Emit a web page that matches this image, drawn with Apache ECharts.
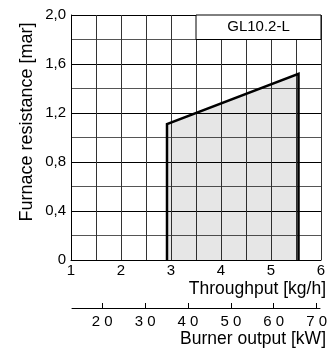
<!DOCTYPE html>
<html><head><meta charset="utf-8">
<script src="https://cdn.jsdelivr.net/npm/echarts@6/dist/echarts.min.js"></script>
<style>html,body{margin:0;padding:0;background:#fff}#c{width:336px;height:351px}</style>
</head><body><div id="c"></div>
<script>
// Data
const throughputTicks = [1, 2, 3, 4, 5, 6];
const resistanceTicks = [0, 0.4, 0.8, 1.2, 1.6, 2.0];
const burnerTicks = [20, 30, 40, 50, 60, 70];
const fieldX = [2.92, 2.92, 5.55, 5.55];
const fieldY = [0, 1.11, 1.52, 0];
const modelLabel = 'GL10.2-L';
const labelBox = [3.5, 6, 1.8, 2.0]; // x0,x1,y0,y1 in data units

const FONT = 'Liberation Sans';
const chart = echarts.init(document.getElementById('c'), null, {renderer: 'canvas'});
const fieldData = fieldX.map((x, i) => [x, fieldY[i]]);

chart.setOption({
  animation: false,
  textStyle: {fontFamily: FONT},
  grid: [
    {left: 71, right: 15, top: 15, bottom: 91},
    {left: 72, right: 16, top: 307, height: 1}
  ],
  xAxis: [
    {
      gridIndex: 0, type: 'value', min: 1, max: 6, interval: 0.5,
      axisLine: {show: true, lineStyle: {color: '#000', width: 1}},
      axisTick: {show: false},
      splitLine: {show: true, lineStyle: {color: '#333', width: 1}},
      axisLabel: {
        color: '#000', fontSize: 15, margin: 3, fontFamily: FONT,
        formatter: v => throughputTicks.includes(v) ? String(v) : ''
      }
    },
    {
      gridIndex: 1, type: 'value', min: 12.95, max: 70.8,
      axisLine: {show: true, lineStyle: {color: '#000', width: 1}},
      axisTick: {show: true, inside: true, length: 5, lineStyle: {color: '#000'}, customValues: burnerTicks},
      splitLine: {show: false},
      axisLabel: {
        color: '#000', fontSize: 15, margin: 6, fontFamily: FONT, customValues: burnerTicks,
        formatter: v => String(v).split('').join(' ')
      }
    }
  ],
  yAxis: [
    {
      gridIndex: 0, type: 'value', min: 0, max: 2, interval: 0.2,
      axisLine: {show: true, lineStyle: {color: '#000', width: 1}},
      axisTick: {show: false},
      splitLine: {show: true, lineStyle: {color: ['#000', '#555'], width: 1}},
      axisLabel: {
        color: '#000', fontSize: 15, margin: 5, fontFamily: FONT,
        formatter: v => {
          const r = Math.round(v * 10) / 10;
          return resistanceTicks.some(t => Math.abs(t - r) < 1e-6)
            ? (r === 0 ? '0' : r.toFixed(1).replace('.', ',')) : '';
        }
      }
    },
    {gridIndex: 1, type: 'value', show: false}
  ],
  graphic: [
    {type: 'text', x: 27, y: 122, rotation: Math.PI / 2,
     style: {text: 'Furnace resistance [mar]', font: '18px "Liberation Sans"', fill: '#000', align: 'center', verticalAlign: 'middle'}},
    {type: 'text', right: 10, top: 280, style: {text: 'Throughput [kg/h]', font: '17.5px "Liberation Sans"', fill: '#000'}},
    {type: 'text', right: 10, top: 330, style: {text: 'Burner output [kW]', font: '17.5px "Liberation Sans"', fill: '#000'}}
  ],
  series: [
    {
      type: 'line', xAxisIndex: 0, yAxisIndex: 0, data: fieldData,
      symbol: 'none', z: 3,
      lineStyle: {color: '#000', width: 2.5, join: 'miter'},
      areaStyle: {color: 'rgba(0,0,0,0.14)', origin: 'start'}
    },
    {
      type: 'custom', xAxisIndex: 0, yAxisIndex: 0, z: 4,
      data: [labelBox],
      renderItem: (params, api) => {
        const p0 = api.coord([api.value(0), api.value(3)]);
        const p1 = api.coord([api.value(1), api.value(2)]);
        return {
          type: 'group',
          children: [
            {type: 'rect', shape: {x: p0[0], y: p0[1], width: p1[0] - p0[0], height: p1[1] - p0[1]},
             style: {fill: '#fff', stroke: '#000', lineWidth: 1}},
            {type: 'text', style: {text: modelLabel, x: (p0[0] + p1[0]) / 2, y: (p0[1] + p1[1]) / 2,
              align: 'center', verticalAlign: 'middle', font: '15px "Liberation Sans"', fill: '#000'}}
          ]
        };
      }
    }
  ]
});
</script>
</body></html>
